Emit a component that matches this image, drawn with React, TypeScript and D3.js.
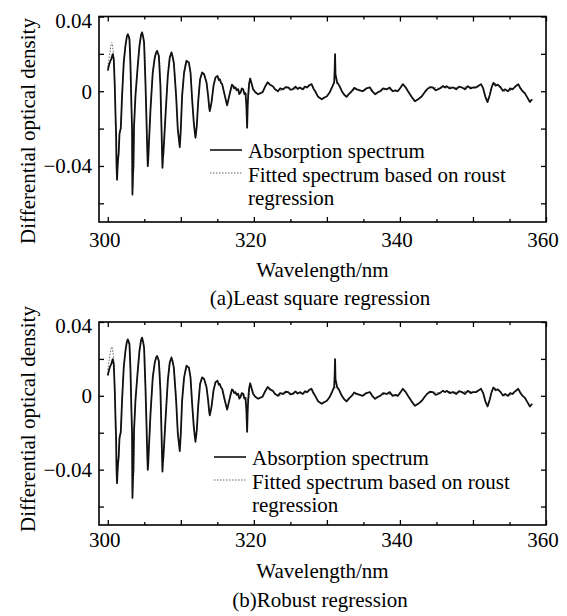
import { useRef, useEffect } from "react";
import * as d3 from "d3";

type Pt = [number, number];

// absorption spectrum (same trace in both panels)
const absorption: Pt[] = [
    [300.0, 0.011], [300.2, 0.0145], [300.37, 0.0163], [300.5, 0.0175], [300.68, 0.0199],
    [300.82, 0.0172], [300.96, 0.0029], [301.05, -0.0113], [301.14, -0.0231], [301.2, -0.04],
    [301.27, -0.0473], [301.34, -0.041], [301.41, -0.0365], [301.5, -0.033], [301.6, -0.023],
    [301.7, -0.021], [301.78, -0.02], [301.96, -0.0025], [302.19, 0.0156], [302.42, 0.0243],
    [302.6, 0.029], [302.74, 0.0306], [302.85, 0.0295], [302.97, 0.028], [303.1, 0.0154],
    [303.24, -0.0079], [303.33, -0.0204], [303.38, -0.0553], [303.45, -0.045], [303.52, -0.04],
    [303.6, -0.0186], [303.79, -0.0025], [304.07, 0.0118], [304.34, 0.0243], [304.55, 0.03],
    [304.7, 0.0315], [304.85, 0.029], [304.97, 0.0261], [305.16, 0.0047], [305.3, -0.015],
    [305.38, -0.0276], [305.48, -0.0401], [305.55, -0.036], [305.62, -0.0294], [305.85, -0.0097],
    [306.16, 0.01], [306.44, 0.0181], [306.6, 0.0205], [306.75, 0.0216], [306.99, 0.019],
    [307.21, 0.0029], [307.35, -0.0186], [307.42, -0.03], [307.49, -0.041], [307.55, -0.036],
    [307.62, -0.033], [307.9, -0.0133], [308.22, 0.0082], [308.49, 0.0181], [308.72, 0.0208],
    [308.85, 0.019], [309.04, 0.0154], [309.36, -0.0025], [309.59, -0.0204], [309.75, -0.026],
    [309.86, -0.03], [310.0, -0.0204], [310.18, -0.0025], [310.45, 0.01], [310.78, 0.0163],
    [310.95, 0.0158], [311.1, 0.0154], [311.33, 0.01], [311.55, -0.0043], [311.78, -0.0168],
    [311.92, -0.022], [312.01, -0.0249], [312.19, -0.0186], [312.37, -0.0061], [312.64, 0.0064],
    [312.92, 0.01], [313.19, 0.0091], [313.52, 0.0047], [313.74, -0.0025], [313.9, -0.009],
    [313.97, -0.0106], [314.2, -0.0061], [314.48, 0.0029], [314.75, 0.0074], [315.02, 0.0082],
    [315.2, 0.006], [315.34, 0.0064], [315.5, 0.0045], [315.66, 0.0038], [316.03, -0.0025],
    [316.34, -0.0075], [316.58, -0.0034], [316.85, 0.0011], [317.0, 0.0035], [317.17, 0.0029],
    [317.3, 0.0015], [317.49, 0.002], [317.65, 0.0005], [317.85, 0.0011], [318.0, -0.0015],
    [318.18, -0.0007], [318.35, 0.0015], [318.54, 0.0011], [318.7, -0.0015], [318.86, -0.0011],
    [318.98, -0.008], [319.08, -0.0195], [319.15, -0.009], [319.22, -0.0025], [319.35, 0.004],
    [319.5, 0.0068], [319.7, 0.004], [319.9, 0.0011], [320.2, -0.0005], [320.59, -0.0016],
    [320.9, -0.001], [321.2, -0.0005], [321.55, 0.0025], [321.9, 0.0048], [322.2, 0.0035],
    [322.6, 0.0027], [322.9, 0.001], [323.3, 0.0], [323.6, 0.0015], [324.0, 0.001],
    [324.35, 0.0022], [324.7, 0.002], [325.0, 0.0008], [325.3, 0.001], [325.7, 0.0024],
    [326.0, 0.0012], [326.3, 0.002], [326.7, 0.001], [327.0, 0.0025], [327.3, 0.002],
    [327.6, 0.0032], [327.9, 0.0038], [328.15, 0.0015], [328.4, 0.0], [328.8, -0.003],
    [329.3, -0.0043], [329.6, -0.0035], [330.0, -0.0027], [330.4, -0.0005], [330.7, 0.002],
    [331.0, 0.0048], [331.07, 0.012], [331.12, 0.0199], [331.18, 0.009], [331.4, 0.0048],
    [331.7, 0.003], [332.05, 0.0], [332.4, -0.002], [332.7, -0.003], [333.0, -0.0015],
    [333.4, 0.0], [333.75, 0.0018], [334.1, 0.001], [334.5, 0.0005], [334.9, 0.0],
    [335.4, 0.0015], [335.9, 0.002], [336.2, 0.0], [336.6, -0.0016], [337.0, -0.0005],
    [337.3, 0.0], [337.7, 0.0015], [338.2, 0.001], [338.6, 0.002], [339.0, 0.0],
    [339.4, 0.0005], [339.7, 0.0], [340.1, 0.002], [340.4, 0.0038], [340.8, 0.002],
    [341.1, 0.0], [341.6, -0.003], [342.05, -0.0054], [342.6, -0.004], [343.0, -0.0027],
    [343.4, -0.0005], [343.7, 0.001], [344.1, 0.0022], [344.5, 0.002], [344.9, 0.0005],
    [345.2, 0.001], [345.5, 0.0016], [345.9, 0.0028], [346.2, 0.002], [346.4, 0.0027],
    [346.8, 0.0015], [347.3, 0.002], [347.7, 0.001], [348.1, 0.0025], [348.5, 0.002],
    [348.9, 0.001], [349.3, 0.0027], [349.7, 0.0015], [350.0, 0.002], [350.4, 0.002],
    [350.8, 0.003], [351.1, 0.0038], [351.4, 0.0015], [351.7, -0.003], [352.0, -0.0058],
    [352.3, -0.002], [352.55, 0.002], [352.8, 0.0045], [353.1, 0.003], [353.4, 0.0035],
    [353.8, 0.002], [354.1, 0.0002], [354.4, 0.001], [354.8, 0.0], [355.1, 0.0015],
    [355.4, 0.001], [355.8, 0.0025], [356.2, 0.0038], [356.5, 0.0015], [356.8, 0.0],
    [357.1, -0.001], [357.45, -0.0034], [357.8, -0.0058], [358.1, -0.0043],
];

// fitted spectra (dotted); they sit under the absorption trace except near 300.5 nm
const fittedLeastSquare: Pt[] = [
    [300.0, 0.013], [300.3, 0.021], [300.55, 0.026], [300.8, 0.019], [300.96, 0.004],
    [301.1, -0.018], [301.27, -0.046], [301.41, -0.036], [301.6, -0.024], [301.78, -0.019],
    [301.96, -0.002], [302.19, 0.015], [302.42, 0.024], [302.74, 0.03], [302.97, 0.027],
    [303.1, 0.015], [303.24, -0.008], [303.38, -0.053], [303.52, -0.039], [303.6, -0.019],
    [303.79, -0.003], [304.07, 0.012], [304.34, 0.024], [304.7, 0.031], [304.97, 0.026],
    [305.16, 0.005], [305.3, -0.015], [305.48, -0.039], [305.62, -0.029], [305.85, -0.01],
    [306.16, 0.01], [306.44, 0.018], [306.75, 0.021], [306.99, 0.019], [307.21, 0.003],
    [307.35, -0.018], [307.49, -0.04], [307.62, -0.032], [307.9, -0.013], [308.22, 0.008],
    [308.49, 0.018], [308.72, 0.0205], [309.04, 0.015], [309.36, -0.003], [309.59, -0.02],
    [309.86, -0.029], [310.0, -0.02], [310.18, -0.003], [310.45, 0.01], [310.78, 0.016],
    [311.1, 0.015], [311.33, 0.01], [311.55, -0.004], [311.78, -0.017], [312.01, -0.024],
    [312.19, -0.018], [312.37, -0.006], [312.64, 0.006], [312.92, 0.01], [313.19, 0.009],
    [313.52, 0.0045], [313.74, -0.002], [313.97, -0.01], [314.2, -0.006], [314.48, 0.003],
    [314.75, 0.007], [315.02, 0.008], [315.34, 0.006], [315.66, 0.0038], [316.03, -0.0025],
    [316.34, -0.007], [316.58, -0.0034], [316.85, 0.001], [317.17, 0.0028], [317.49, 0.002],
    [317.85, 0.001], [318.18, -0.0005], [318.54, 0.001], [318.86, -0.001], [319.22, -0.002],
    [319.5, 0.006], [319.9, 0.001], [320.2, -0.0005], [320.6, -0.0015], [321.2, -0.0005],
    [321.9, 0.0045], [322.6, 0.0027], [323.3, 0.0], [324.0, 0.001], [324.7, 0.002],
    [325.3, 0.001], [326.0, 0.0015], [326.7, 0.0012], [327.3, 0.002], [327.9, 0.0036],
    [328.4, 0.0], [328.8, -0.003], [329.3, -0.0042], [330.0, -0.0027], [330.7, 0.002],
    [331.1, 0.0045], [331.7, 0.003], [332.05, 0.0], [332.7, -0.003], [333.4, 0.0],
    [334.1, 0.001], [334.9, 0.0], [335.9, 0.002], [336.6, -0.0015], [337.3, 0.0],
    [338.2, 0.001], [339.0, 0.0005], [339.7, 0.0], [340.4, 0.0036], [341.1, 0.0],
    [342.05, -0.0052], [343.0, -0.0027], [343.7, 0.001], [344.5, 0.002], [345.5, 0.0016],
    [346.4, 0.0025], [347.3, 0.002], [348.5, 0.002], [349.3, 0.0025], [350.4, 0.002],
    [351.1, 0.0036], [351.7, -0.003], [352.0, -0.0055], [352.3, -0.002], [352.8, 0.0043],
    [353.4, 0.0033], [354.1, 0.0003], [354.8, 0.0], [355.4, 0.001], [356.2, 0.0036],
    [356.8, 0.0], [357.45, -0.0033], [357.8, -0.0056], [358.1, -0.0043],
];

const fittedRobust: Pt[] = [
    [300.0, 0.014], [300.3, 0.022], [300.55, 0.0265], [300.8, 0.02], [300.96, 0.005],
    [301.1, -0.016], [301.27, -0.045], [301.41, -0.035], [301.6, -0.025], [301.78, -0.017],
    [301.96, -0.001], [302.19, 0.015], [302.42, 0.024], [302.74, 0.03], [302.97, 0.027],
    [303.1, 0.016], [303.24, -0.006], [303.38, -0.052], [303.52, -0.038], [303.6, -0.02],
    [303.79, -0.004], [304.07, 0.012], [304.34, 0.024], [304.7, 0.031], [304.97, 0.026],
    [305.16, 0.006], [305.3, -0.014], [305.48, -0.038], [305.62, -0.03], [305.85, -0.011],
    [306.16, 0.009], [306.44, 0.018], [306.75, 0.021], [306.99, 0.019], [307.21, 0.004],
    [307.35, -0.017], [307.49, -0.039], [307.62, -0.031], [307.9, -0.014], [308.22, 0.007],
    [308.49, 0.018], [308.72, 0.0205], [309.04, 0.015], [309.36, -0.002], [309.59, -0.019],
    [309.86, -0.028], [310.0, -0.021], [310.18, -0.004], [310.45, 0.009], [310.78, 0.016],
    [311.1, 0.015], [311.33, 0.01], [311.55, -0.003], [311.78, -0.016], [312.01, -0.023],
    [312.19, -0.018], [312.37, -0.007], [312.64, 0.006], [312.92, 0.01], [313.19, 0.009],
    [313.52, 0.0045], [313.74, -0.002], [313.97, -0.0095], [314.2, -0.006], [314.48, 0.003],
    [314.75, 0.007], [315.02, 0.008], [315.34, 0.006], [315.66, 0.0038], [316.03, -0.0025],
    [316.34, -0.0068], [316.58, -0.0034], [316.85, 0.001], [317.17, 0.0028], [317.49, 0.002],
    [317.85, 0.001], [318.18, -0.0005], [318.54, 0.001], [318.86, -0.001], [319.22, -0.002],
    [319.5, 0.006], [319.9, 0.001], [320.2, -0.0005], [320.6, -0.0015], [321.2, -0.0005],
    [321.9, 0.0045], [322.6, 0.0027], [323.3, 0.0], [324.0, 0.001], [324.7, 0.002],
    [325.3, 0.001], [326.0, 0.0015], [326.7, 0.0012], [327.3, 0.002], [327.9, 0.0036],
    [328.4, 0.0], [328.8, -0.003], [329.3, -0.0042], [330.0, -0.0027], [330.7, 0.002],
    [331.1, 0.0045], [331.7, 0.003], [332.05, 0.0], [332.7, -0.003], [333.4, 0.0],
    [334.1, 0.001], [334.9, 0.0], [335.9, 0.002], [336.6, -0.0015], [337.3, 0.0],
    [338.2, 0.001], [339.0, 0.0005], [339.7, 0.0], [340.4, 0.0036], [341.1, 0.0],
    [342.05, -0.0052], [343.0, -0.0027], [343.7, 0.001], [344.5, 0.002], [345.5, 0.0016],
    [346.4, 0.0025], [347.3, 0.002], [348.5, 0.002], [349.3, 0.0025], [350.4, 0.002],
    [351.1, 0.0036], [351.7, -0.003], [352.0, -0.0055], [352.3, -0.002], [352.8, 0.0043],
    [353.4, 0.0033], [354.1, 0.0003], [354.8, 0.0], [355.4, 0.001], [356.2, 0.0036],
    [356.8, 0.0], [357.45, -0.0033], [357.8, -0.0056], [358.1, -0.0043],
];

const xMajorTicks = [300, 310, 320, 330, 340, 350, 360];
const xMinorTicks = [305, 315, 325, 335, 345, 355];
const xTickLabels = [300, 320, 340, 360];
const yTicks = [0.04, 0.02, 0, -0.02, -0.04, -0.06];
const yTickLabels = [0.04, 0, -0.04];
const legendLabels = ["Absorption spectrum", "Fitted spectrum based on roust", "regression"];
const xTitle = "Wavelength/nm";
const yTitle = "Differential optical density";

const panels = [
    { caption: "(a)Least square regression", fitted: fittedLeastSquare, top: 16.5, bottom: 222, yTitleY: 131, legendY: 150, legendX: 210, tickDy: 25, titleDy: 55, captionDy: 83 },
    { caption: "(b)Robust regression", fitted: fittedRobust, top: 322, bottom: 525, yTitleY: 419, legendY: 457, legendX: 214, tickDy: 22, titleDy: 53, captionDy: 82 },
];

const W = 567;
const H = 616;
const left = 99;
const right = 546;
const font = "'Liberation Serif', 'Times New Roman', serif";

const fmtY = (v: number) => (v === 0 ? "0" : (v < 0 ? "\u2212" : "") + Math.abs(v).toFixed(2));

export default function App() {
    const svgRef = useRef<SVGSVGElement>(null);

    useEffect(() => {
        if (!svgRef.current) return;
        const svg = d3.select(svgRef.current);
        svg.selectAll("*").remove();
        svg.append("rect").attr("width", W).attr("height", H).attr("fill", "#fff");

        const x = d3.scaleLinear().domain([298.8, 360]).range([left, right]);

        panels.forEach((p) => {
            const y = d3.scaleLinear().domain([-0.07, 0.04]).range([p.bottom, p.top]);
            const g = svg.append("g").style("font-family", font).style("font-size", "21px");

            const fitLine = d3.line<Pt>().x((d) => x(d[0])).y((d) => y(d[1])).curve(d3.curveCatmullRom);
            const absLine = d3.line<Pt>().x((d) => x(d[0])).y((d) => y(d[1]));

            g.append("path").datum(p.fitted).attr("d", fitLine)
                .attr("fill", "none").attr("stroke", "#666").attr("stroke-width", 1)
                .attr("stroke-dasharray", "1.5,1.5");
            g.append("path").datum(absorption).attr("d", absLine)
                .attr("fill", "none").attr("stroke", "#111").attr("stroke-width", 1.8)
                .attr("stroke-linejoin", "round");

            // inward ticks on all four sides
            const axes = [
                { a: d3.axisBottom(x).tickValues(xMajorTicks).tickSize(-5), t: `translate(0,${p.bottom})` },
                { a: d3.axisBottom(x).tickValues(xMinorTicks).tickSize(-3), t: `translate(0,${p.bottom})` },
                { a: d3.axisTop(x).tickValues(xMajorTicks).tickSize(-5), t: `translate(0,${p.top})` },
                { a: d3.axisTop(x).tickValues(xMinorTicks).tickSize(-3), t: `translate(0,${p.top})` },
                { a: d3.axisLeft(y).tickValues(yTicks).tickSize(-5), t: `translate(${left},0)` },
                { a: d3.axisRight(y).tickValues(yTicks).tickSize(-5), t: `translate(${right},0)` },
            ];
            axes.forEach(({ a, t }) => {
                const ag = g.append("g").attr("transform", t).call(a.tickFormat(() => ""));
                ag.select(".domain").remove();
                ag.selectAll("line").attr("stroke", "#000").attr("stroke-width", 1.3);
            });

            g.append("rect").attr("x", left).attr("y", p.top)
                .attr("width", right - left).attr("height", p.bottom - p.top)
                .attr("fill", "none").attr("stroke", "#000").attr("stroke-width", 1.6);

            g.selectAll(".xl").data(xTickLabels).enter().append("text")
                .attr("x", (d) => x(d) - 3).attr("y", p.bottom + p.tickDy)
                .attr("text-anchor", "middle").text((d) => String(d));

            g.selectAll(".yl").data(yTickLabels).enter().append("text")
                .attr("x", 92).attr("y", (d) => y(d) + (d === 0.04 ? 4 : 0))
                .attr("dy", "0.35em").attr("text-anchor", "end").text(fmtY);

            g.append("text").attr("x", (left + right) / 2).attr("y", p.bottom + p.titleDy)
                .attr("text-anchor", "middle").text(xTitle);
            g.append("text").attr("x", 320).attr("y", p.bottom + p.captionDy)
                .attr("text-anchor", "middle").text(p.caption);
            g.append("text").attr("transform", `translate(35,${p.yTitleY}) rotate(-90)`)
                .attr("text-anchor", "middle").text(yTitle);

            // legend
            g.append("line").attr("x1", p.legendX).attr("x2", p.legendX + 32)
                .attr("y1", p.legendY).attr("y2", p.legendY)
                .attr("stroke", "#111").attr("stroke-width", 1.6);
            g.append("line").attr("x1", p.legendX).attr("x2", p.legendX + 32)
                .attr("y1", p.legendY + 23).attr("y2", p.legendY + 23)
                .attr("stroke", "#666").attr("stroke-width", 1).attr("stroke-dasharray", "1.5,1.5");
            legendLabels.forEach((t, i) => {
                g.append("text").attr("x", p.legendX + 38).attr("y", p.legendY + 8 + i * 23.5).text(t);
            });
        });
    }, []);

    return (
        <svg ref={svgRef} width={W} height={H}
            style={{ position: "absolute", left: 0, top: 0, display: "block" }} />
    );
}
